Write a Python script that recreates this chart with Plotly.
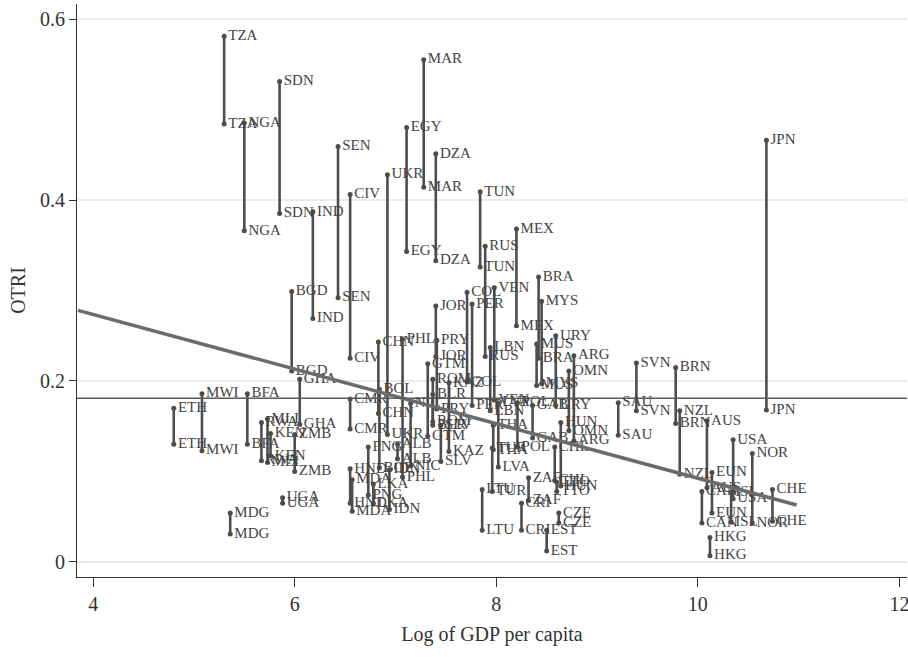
import plotly.graph_objects as go

countries = ["TZA","NGA","SDN","IND","SEN","CIV","UKR","MAR","EGY","DZA","TUN","RUS","MEX",
             "BRA","MYS","MUS","URY","ARG","OMN","SVN","BRN","SAU","NZL","AUS","USA","ISL",
             "NOR","EUN","CAN","CHE","JPN","HKG","COL","PER","VEN","LBN","JOR","PHL","PRY",
             "CHN","BOL","BGD","GHA","MWI","ETH","BFA","RWA","MLI","KEN","ZMB","UGA","MDG",
             "CMR","GTM","ROM","KAZ","BLR","SLV","NIC","ALB","PNG","HND","MDA","LKA","IDN",
             "THA","TUR","LVA","LTU","POL","GAB","HUN","CHL","TTO","ZAF","CRI","EST","CZE"]
gdp = [5.30,5.50,5.85,6.18,6.43,6.55,6.92,7.28,7.11,7.40,7.84,7.89,8.20,
       8.42,8.45,8.40,8.59,8.77,8.72,9.39,9.78,9.21,9.82,10.09,10.35,10.33,
       10.54,10.14,10.04,10.74,10.68,10.12,7.71,7.76,7.98,7.94,7.40,7.07,7.41,
       6.83,6.84,5.97,6.05,5.08,4.80,5.53,5.67,5.73,5.76,6.00,5.88,5.36,
       6.55,7.32,7.37,7.53,7.37,7.45,7.15,7.02,6.73,6.55,6.57,6.78,6.94,
       7.97,7.96,8.02,7.86,8.21,8.36,8.64,8.58,8.60,8.32,8.25,8.50,8.62]
otri_a = [0.581,0.485,0.531,0.387,0.459,0.406,0.428,0.555,0.480,0.451,0.409,0.349,0.368,
          0.315,0.288,0.241,0.250,0.228,0.211,0.220,0.215,0.176,0.167,0.156,0.135,0.077,
          0.120,0.099,0.078,0.080,0.466,0.027,0.298,0.285,0.303,0.237,0.283,0.246,0.245,
          0.243,0.191,0.299,0.202,0.186,0.170,0.186,0.154,0.158,0.142,0.141,0.071,0.054,
          0.180,0.219,0.202,0.198,0.185,0.151,0.175,0.130,0.127,0.103,0.091,0.086,0.102,
          0.151,0.126,0.176,0.080,0.176,0.173,0.154,0.127,0.088,0.093,0.065,0.035,0.054]
otri_b = [0.484,0.366,0.385,0.269,0.292,0.225,0.141,0.414,0.343,0.333,0.326,0.227,0.261,
          0.225,0.197,0.195,0.173,0.134,0.145,0.167,0.153,0.140,0.097,0.082,0.070,0.044,
          0.043,0.054,0.043,0.045,0.168,0.007,0.199,0.173,0.179,0.167,0.227,0.094,0.169,
          0.164,0.104,0.211,0.152,0.123,0.130,0.130,0.112,0.110,0.117,0.100,0.065,0.031,
          0.147,0.139,0.155,0.122,0.151,0.111,0.106,0.114,0.074,0.065,0.056,0.065,0.058,
          0.124,0.078,0.105,0.035,0.127,0.137,0.084,0.090,0.078,0.068,0.035,0.012,0.043]

fit_x = [3.85, 10.98]
fit_y = [0.278, 0.063]
mean_otri = 0.181

x_ticks = [4, 6, 8, 10, 12]
y_ticks = [0, 0.2, 0.4, 0.6]
y_tick_text = ["0", "0.2", "0.4", "0.6"]

FONT = "Liberation Serif"

seg_x, seg_y = [], []
for g, a, b in zip(gdp, otri_a, otri_b):
    seg_x += [g, g, None]
    seg_y += [a, b, None]

fig = go.Figure()
fig.add_trace(go.Scatter(x=seg_x, y=seg_y, mode="lines",
                         line=dict(color="#4d4d4d", width=2.6),
                         hoverinfo="skip", showlegend=False))
fig.add_trace(go.Scatter(x=gdp + gdp, y=otri_a + otri_b, mode="markers+text",
                         text=countries + countries, textposition="middle right",
                         textfont=dict(family=FONT, size=15, color="#444444"),
                         marker=dict(color="#4d4d4d", size=5),
                         cliponaxis=False, showlegend=False))
fig.add_trace(go.Scatter(x=fit_x, y=fit_y, mode="lines",
                         line=dict(color="#6b6b6b", width=3.5),
                         showlegend=False))
fig.add_shape(type="line", xref="paper", yref="y", x0=0, x1=1,
              y0=mean_otri, y1=mean_otri,
              line=dict(color="#5a5a5a", width=1.6))

fig.update_layout(
    width=908, height=657,
    margin=dict(l=77, r=1, t=4, b=80),
    paper_bgcolor="white", plot_bgcolor="white",
    font=dict(family=FONT, size=20, color="#333333"),
    xaxis=dict(range=[3.84, 12.075], tickvals=x_ticks, showgrid=False, zeroline=False,
               automargin=False, ticklabeloverflow="allow",
               showline=True, linecolor="#333333", linewidth=1.2,
               ticks="outside", ticklen=9, tickcolor="#333333",
               title=dict(text="Log of GDP per capita", standoff=12,
                          font=dict(family=FONT, size=20))),
    yaxis=dict(range=[-0.0166, 0.6166], tickvals=y_ticks, ticktext=y_tick_text,
               showgrid=True, gridcolor="#ebebeb", gridwidth=2, zeroline=False,
               automargin=False,
               showline=True, linecolor="#333333", linewidth=1.2,
               ticks="outside", ticklen=7, tickcolor="#333333",
               title=dict(text="OTRI", standoff=8,
                          font=dict(family=FONT, size=20))),
)

fig.write_html("out.html", config={"displayModeBar": False},
               post_script="document.body.style.margin='0';document.body.style.padding='0';")
